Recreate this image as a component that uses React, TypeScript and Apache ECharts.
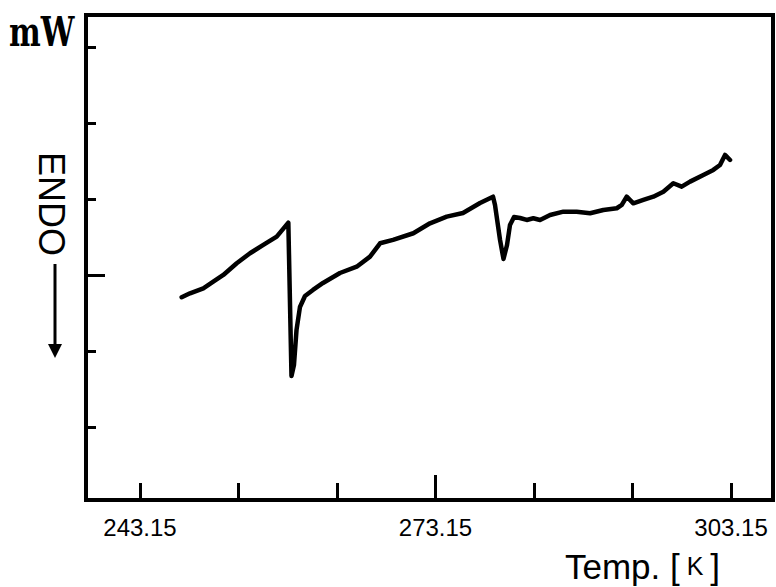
import React, { useEffect, useRef } from "react";
import * as echarts from "echarts";

// Temperature (K) and DSC signal (arbitrary units, one unit per y tick)
const temps = [
  247.38, 248.23, 249.58, 250.59, 251.61, 252.97, 254.32, 255.67, 257.03, 258.21,
  258.53, 258.78, 259.04, 259.39, 259.9, 260.71, 261.73, 263.45, 265.15, 266.5,
  267.52, 268.84, 270.9, 272.59, 274.29, 275.94, 277.67, 278.99, 279.19, 279.7,
  280.05, 280.41, 280.71, 281.12, 281.73, 282.41, 283.08, 283.76, 284.78, 286.13,
  287.48, 288.84, 290.19, 291.55, 292.06, 292.56, 293.23, 294.25, 295.26, 296.28,
  297.29, 298.14, 298.99, 300.34, 301.35, 302.03, 302.54, 303.05,
];
const signal = [
  2.707, 2.759, 2.825, 2.912, 3.0, 3.154, 3.286, 3.395, 3.504, 3.688,
  1.671, 1.816, 2.276, 2.579, 2.724, 2.803, 2.895, 3.026, 3.109, 3.241,
  3.417, 3.461, 3.549, 3.68, 3.767, 3.816, 3.947, 4.03, 3.921, 3.461,
  3.211, 3.395, 3.658, 3.763, 3.75, 3.724, 3.746, 3.724, 3.789, 3.833,
  3.833, 3.812, 3.855, 3.878, 3.921, 4.03, 3.943, 3.987, 4.03, 4.096,
  4.207, 4.162, 4.228, 4.316, 4.382, 4.447, 4.579, 4.513,
];
const xTickValues = [243.15, 253.15, 263.15, 273.15, 283.15, 293.15, 303.15];
const xLabelValues = [243.15, 273.15, 303.15];
const xMajorTick = [273.15];
const yTickValues = [1, 2, 3, 4, 5, 6];
const yMajorTick = [3];

const X_MIN = 237.67;
const X_MAX = 307.41;
const Y_MIN = 0.04;
const Y_MAX = 6.42;

export default function App() {
  const ref = useRef<HTMLDivElement>(null);
  useEffect(() => {
    const chart = echarts.init(ref.current!, null, { renderer: "svg" });
    const data = temps.map((t, i) => [t, signal[i]]);
    const sans = "Liberation Sans";
    chart.setOption({
      animation: false,
      backgroundColor: "#ffffff",
      grid: {
        left: 86,
        right: 3,
        top: 15,
        bottom: 87,
        show: true,
        borderColor: "#000",
        borderWidth: 4,
        backgroundColor: "transparent",
      },
      xAxis: [
        {
          type: "value",
          min: X_MIN,
          max: X_MAX,
          position: "bottom",
          axisLine: { show: false },
          splitLine: { show: false },
          axisTick: {
            show: true,
            inside: true,
            length: 17,
            customValues: xTickValues,
            lineStyle: { color: "#000", width: 3 },
          },
          axisLabel: {
            show: true,
            customValues: xLabelValues,
            formatter: (v: number) => v.toFixed(2),
            color: "#000",
            fontFamily: sans,
            fontSize: 24,
            margin: 15,
          },
        },
        {
          type: "value",
          min: X_MIN,
          max: X_MAX,
          position: "bottom",
          axisLine: { show: false },
          splitLine: { show: false },
          axisTick: {
            show: true,
            inside: true,
            length: 25,
            customValues: xMajorTick,
            lineStyle: { color: "#000", width: 3 },
          },
          axisLabel: { show: false },
        },
      ],
      yAxis: [
        {
          type: "value",
          min: Y_MIN,
          max: Y_MAX,
          position: "left",
          axisLine: { show: false },
          splitLine: { show: false },
          axisTick: {
            show: true,
            inside: true,
            length: 10,
            customValues: yTickValues,
            lineStyle: { color: "#000", width: 3 },
          },
          axisLabel: { show: false },
        },
        {
          type: "value",
          min: Y_MIN,
          max: Y_MAX,
          position: "left",
          axisLine: { show: false },
          splitLine: { show: false },
          axisTick: {
            show: true,
            inside: true,
            length: 19,
            customValues: yMajorTick,
            lineStyle: { color: "#000", width: 3 },
          },
          axisLabel: { show: false },
        },
      ],
      series: [
        {
          type: "line",
          xAxisIndex: 0,
          yAxisIndex: 0,
          data,
          showSymbol: false,
          symbol: "none",
          smooth: false,
          lineStyle: { color: "#000", width: 4.5, join: "round", cap: "round" },
        },
      ],
      graphic: [
        {
          type: "text",
          x: 9,
          y: 12,
          scaleY: 1.35,
          style: {
            text: "mW",
            fontFamily: "DejaVu Serif",
            fontWeight: "bold",
            fontSize: 30,
            fill: "#000",
            textAlign: "left",
            textVerticalAlign: "top",
          },
        },
        {
          type: "text",
          x: 51,
          y: 152,
          rotation: -Math.PI / 2,
          style: {
            text: "ENDO",
            fontFamily: sans,
            fontSize: 36,
            fill: "#000",
            textAlign: "left",
            textVerticalAlign: "middle",
          },
        },
        {
          type: "line",
          shape: { x1: 55, y1: 264, x2: 55, y2: 348 },
          style: { stroke: "#000", lineWidth: 3 },
        },
        {
          type: "polygon",
          shape: { points: [[48, 344], [62, 344], [55, 358]] },
          style: { fill: "#000" },
        },
        {
          type: "text",
          x: 565,
          y: 566,
          style: {
            text: "{a|Temp. [}{k| K }{a|]}",
            textVerticalAlign: "middle",
            rich: {
              a: { fontFamily: sans, fontSize: 35, fill: "#000", color: "#000" },
              k: { fontFamily: sans, fontSize: 25, fill: "#000", color: "#000" },
            },
          },
        },
      ],
    });
    return () => chart.dispose();
  }, []);
  return (
    <div
      ref={ref}
      style={{ position: "absolute", left: 0, top: 0, width: 776, height: 587 }}
    />
  );
}
